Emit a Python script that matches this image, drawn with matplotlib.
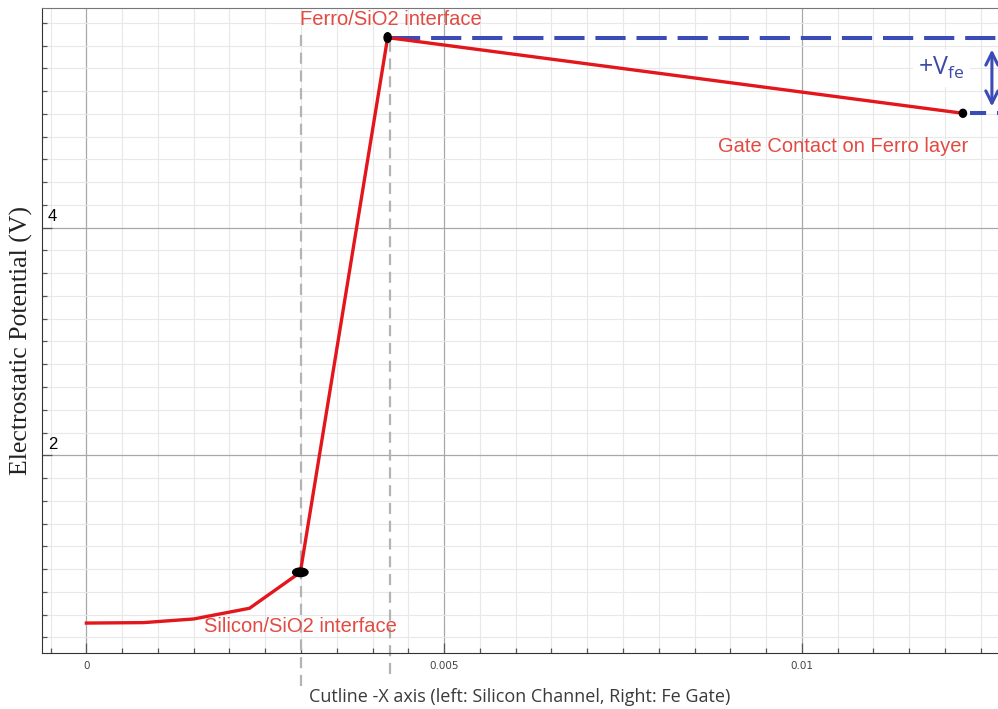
import numpy as np
import matplotlib.pyplot as plt
from matplotlib.patches import Ellipse
from matplotlib.ticker import MultipleLocator
import matplotlib.transforms as mtransforms

# potential along the cutline
x_pos = [0.0, 0.0008, 0.0015, 0.00228, 0.00299, 0.00421, 0.01225]
v_pot = [0.526, 0.53, 0.562, 0.656, 0.972, 5.67, 5.005]

x_ticks = [0, 0.005, 0.01]
x_ticklabels = ['0', '0.005', '0.01']
y_ticks = [2, 4]
y_ticklabels = ['2', '4']

x_si = 0.003      # Silicon/SiO2 interface
x_fe = 0.00425    # Ferro/SiO2 interface
v_top = v_pot[5]
v_gate = v_pot[6]

red = '#e3161c'
txt_red = '#e24a42'
blue = '#3b4cb8'

fig = plt.figure(figsize=(9.98, 7.09), dpi=100)
ax = fig.add_axes([42/998, 56/709, 956/998, 645/709])
ax.set_xlim(-0.00062, 0.01274)
ax.set_ylim(0.263, 5.93)

ax.xaxis.set_major_locator(MultipleLocator(0.005))
ax.xaxis.set_minor_locator(MultipleLocator(0.0005))
ax.yaxis.set_major_locator(MultipleLocator(2))
ax.yaxis.set_minor_locator(MultipleLocator(0.2))
ax.grid(which='major', color='#a8a8a8', lw=0.9)
ax.grid(which='minor', color='#e8e8e8', lw=0.8)
ax.set_axisbelow(True)

ax.set_xticks(x_ticks)
ax.set_xticklabels(x_ticklabels, fontsize=7.5, color='#444444')
ax.set_yticks(y_ticks)
ax.set_yticklabels([])
ax.tick_params(which='major', direction='in', length=7, color='#555555', width=0.9)
ax.tick_params(which='minor', direction='in', length=3.5, color='#555555', width=0.9)
ax.tick_params(axis='x', pad=6)
ytr = mtransforms.blended_transform_factory(ax.transAxes, ax.transData)
for yv, lab in zip(y_ticks, y_ticklabels):
    ax.text(0.006, yv + 0.03, lab, transform=ytr, fontsize=12, family='Liberation Sans',
            ha='left', va='bottom', color='black')

ax.spines['right'].set_visible(False)
ax.spines['top'].set_color('#777777')
ax.spines['left'].set_color('#333333')
ax.spines['bottom'].set_color('#333333')

# interface markers (dashed gray)
ax.plot([x_si, x_si], [-0.03, 5.7], ls=(0, (5, 3)), color='#b4b4b4', lw=1.6, clip_on=False, zorder=1)
ax.plot([x_fe, x_fe], [0.08, 5.64], ls=(0, (5, 3)), color='#b4b4b4', lw=1.6, clip_on=False, zorder=1)

# blue Vfe reference lines
ax.plot([x_fe, 0.0128], [v_top, v_top], color=blue, lw=2.9, dashes=(7.5, 2.7), clip_on=False, zorder=3)
ax.plot([0.01235, 0.0128], [v_gate, v_gate], color=blue, lw=2.9, dashes=(4, 2.7), clip_on=False, zorder=3)
ax.annotate('', xy=(0.012655, 5.59), xytext=(0.012655, 5.04),
            arrowprops=dict(arrowstyle='<->', color=blue, lw=2.2, mutation_scale=22),
            annotation_clip=False, zorder=4)
ax.text(0.01195, 5.4, '+V$_{\\mathregular{fe}}$', color='#3d4aa6', fontsize=18,
        family='Open Sans', ha='center', va='center', zorder=4,
        bbox=dict(facecolor='white', edgecolor='none', pad=4))

ax.plot(x_pos, v_pot, color=red, lw=2.4, zorder=5)

ax.add_patch(Ellipse((x_pos[4], v_pot[4]), 0.000215, 0.075, color='black', zorder=6))
ax.add_patch(Ellipse((x_pos[5], v_pot[5]), 0.0001, 0.085, color='black', zorder=6))
ax.add_patch(Ellipse((x_pos[6], v_pot[6]), 0.0001, 0.07, color='black', zorder=6))

ax.text(0.00426, 5.825, 'Ferro/SiO2 interface', color=txt_red, fontsize=14.5,
        family='Liberation Sans', ha='center', va='center', zorder=6)
ax.text(0.00299, 0.5, 'Silicon/SiO2 interface', color=txt_red, fontsize=14.5,
        family='Liberation Sans', ha='center', va='center', zorder=6)
ax.text(0.01057, 4.71, 'Gate Contact on Ferro layer', color=txt_red, fontsize=14.5,
        family='Liberation Sans', ha='center', va='center', zorder=6)

ax.set_ylabel('Electrostatic Potential (V)', family='Liberation Serif', fontsize=18.5,
              color='#222222')
ax.yaxis.set_label_coords(-0.009, 0.485)
ax.set_xlabel('Cutline -X axis (left: Silicon Channel, Right: Fe Gate)',
              family='Open Sans', fontsize=13, color='#3a3a3a', labelpad=12)

fig.savefig('out.png', dpi=100)
